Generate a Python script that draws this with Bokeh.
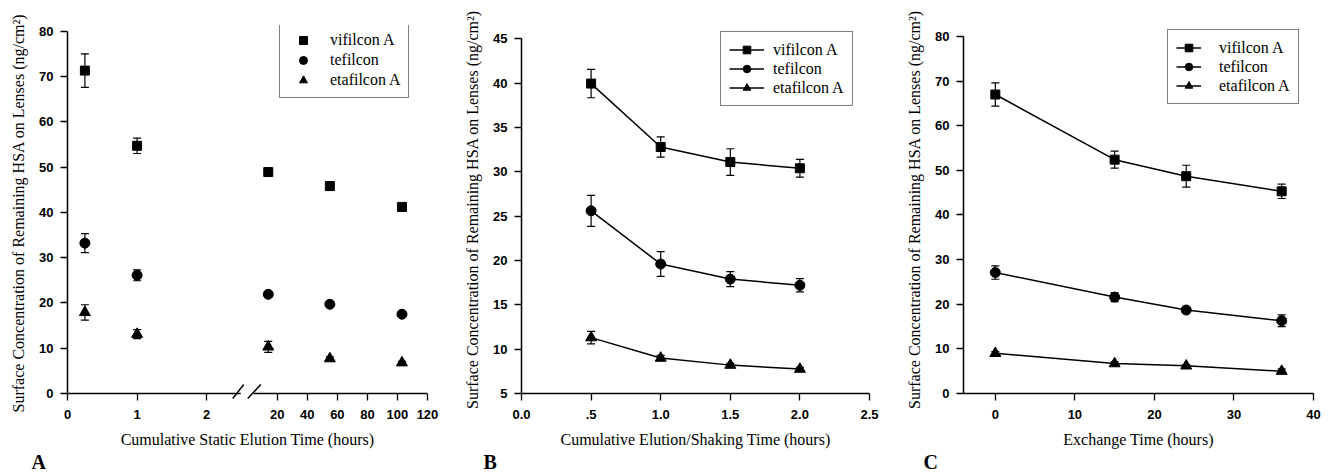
from bokeh.plotting import figure
from bokeh.models import (Range1d, FixedTicker, CustomJSTickFormatter, Whisker, TeeHead,
                          ColumnDataSource, Legend, LegendItem, Title)
from bokeh.layouts import row
from bokeh.embed import file_html
from bokeh.resources import INLINE

SERIF = "Liberation Serif"
SANS = "Liberation Sans"

series_names = ["vifilcon A", "tefilcon", "etafilcon A"]
markers = ["square", "circle", "triangle"]
marker_sizes = [9, 10, 11]
y_label = "Surface Concentration of Remaining HSA on Lenses (ng/cm\u00b2)"

# ---------------- Panel A (static elution, broken x axis) ----------------
a_hours_early = [0.25, 1.0]
a_hours_late = [14, 55, 103]
a_vifilcon = [71.3, 54.7, 48.9, 45.8, 41.2]
a_vifilcon_err = [3.7, 1.7, 0.7, 0.5, 0.4]
a_tefilcon = [33.2, 26.1, 21.9, 19.7, 17.5]
a_tefilcon_err = [2.1, 1.2, 0.6, 0.5, 0.4]
a_etafilcon = [17.9, 13.1, 10.3, 7.7, 6.8]
a_etafilcon_err = [1.7, 1.0, 1.2, 0.4, 0.3]
a_ticks_early = [0, 1, 2]
a_ticks_late = [20, 40, 60, 80, 100, 120]
a_yticks = list(range(0, 81, 10))

# ---------------- Panel B (elution / shaking) ----------------
b_hours = [0.5, 1.0, 1.5, 2.0]
b_vifilcon = [39.95, 32.8, 31.1, 30.4]
b_vifilcon_err = [1.6, 1.15, 1.5, 1.0]
b_tefilcon = [25.6, 19.6, 17.9, 17.2]
b_tefilcon_err = [1.75, 1.4, 0.85, 0.75]
b_etafilcon = [11.3, 9.0, 8.2, 7.75]
b_etafilcon_err = [0.7, 0.3, 0.2, 0.2]
b_ticks = [0.0, 0.5, 1.0, 1.5, 2.0, 2.5]
b_yticks = list(range(5, 46, 5))

# ---------------- Panel C (exchange) ----------------
c_hours = [0, 15, 24, 36]
c_vifilcon = [67.0, 52.4, 48.7, 45.3]
c_vifilcon_err = [2.6, 1.9, 2.45, 1.6]
c_tefilcon = [27.1, 21.6, 18.7, 16.3]
c_tefilcon_err = [1.5, 1.0, 0.6, 1.3]
c_etafilcon = [9.0, 6.7, 6.2, 5.0]
c_etafilcon_err = [0.4, 0.4, 0.3, 0.5]
c_ticks = [0, 10, 20, 30, 40]
c_yticks = list(range(0, 81, 10))

TOP = 25  # shared top border (rows align their plots' borders)


def make_fig(x_range, y_range, left, right, fw, fh, y_ticks, x_title):
    p = figure(frame_width=fw, frame_height=fh, x_range=x_range, y_range=y_range,
               output_backend="svg", toolbar_location=None,
               min_border_left=left, min_border_right=right,
               min_border_top=TOP, min_border_bottom=0)
    p.grid.visible = False
    p.outline_line_color = None
    p.background_fill_color = "white"
    p.border_fill_color = "white"
    for ax in (p.xaxis[0], p.yaxis[0]):
        ax.axis_line_color = "black"
        ax.axis_line_width = 1.5
        ax.major_tick_line_color = "black"
        ax.major_tick_line_width = 1.3
        ax.major_tick_out = 7
        ax.major_tick_in = 0
        ax.minor_tick_line_color = None
        ax.major_label_text_font = SANS
        ax.major_label_text_font_style = "bold"
        ax.major_label_text_font_size = "13px"
        ax.major_label_text_color = "black"
        ax.major_label_standoff = 7
        ax.axis_label_text_font = SERIF
        ax.axis_label_text_font_style = "normal"
        ax.axis_label_text_font_size = "16px"
        ax.axis_label_text_color = "black"
        ax.axis_label_standoff = 9
    p.xaxis[0].major_label_standoff = 9
    p.yaxis[0].ticker = FixedTicker(ticks=y_ticks)
    p.yaxis[0].bounds = (y_ticks[0], y_ticks[-1])
    p.yaxis[0].axis_label = y_label
    p.xaxis[0].axis_label = x_title
    return p


def add_series(p, xs, ys, errs, marker, size, line=False, x_range_name="default"):
    src = ColumnDataSource(dict(x=xs, y=ys,
                                lo=[v - e for v, e in zip(ys, errs)],
                                hi=[v + e for v, e in zip(ys, errs)]))
    w = Whisker(source=src, base="x", lower="lo", upper="hi", dimension="height",
                line_color="black", line_width=1.2, x_range_name=x_range_name,
                upper_head=TeeHead(size=8, line_color="black", line_width=1.2),
                lower_head=TeeHead(size=8, line_color="black", line_width=1.2))
    p.add_layout(w)
    rends = []
    if line:
        rends.append(p.line("x", "y", source=src, line_color="black", line_width=1.5,
                            x_range_name=x_range_name))
    rends.append(p.scatter("x", "y", source=src, marker=marker, size=size,
                           fill_color="black", line_color="black",
                           x_range_name=x_range_name))
    return rends


def add_legend(p, items, loc, glyph_width, row_h, standoff, padding):
    lg = Legend(items=items, location=loc, glyph_width=glyph_width, glyph_height=row_h,
                label_height=row_h, label_standoff=standoff, padding=padding,
                spacing=0, margin=0, border_line_color="black", border_line_width=1.3,
                label_text_font=SERIF, label_text_font_size="16px",
                label_text_color="black", background_fill_color="white",
                background_fill_alpha=1.0)
    p.add_layout(lg)


def add_letter(p, text, offset):
    p.add_layout(Title(text=text, align="left", vertical_align="top", offset=offset,
                       standoff=0, text_font=SERIF, text_font_style="bold",
                       text_font_size="20px", text_color="black"), "below")


# ---------- Panel A ----------
PX_A = 362.3 / 80.0   # pixels per y unit
U20 = 3.014           # plot position of the 20 h tick
K = 0.021583          # plot units per hour on the right segment
U_END = U20 + (a_ticks_late[-1] - 20) * K
pA = make_fig(Range1d(0, U_END), Range1d(-7 / PX_A, 80 + 5.7 / PX_A), 67, 18, 360, 375,
              a_yticks, "Cumulative Static Elution Time (hours)")
pA.extra_x_ranges = {"hours": Range1d(20 - U20 / K, a_ticks_late[-1])}
xa = pA.xaxis[0]
xa.ticker = FixedTicker(ticks=a_ticks_early + [U20 + (h - 20) * K for h in a_ticks_late])
xa.formatter = CustomJSTickFormatter(args=dict(u20=U20, k=K),
    code="return (tick < 2.5 ? tick : 20 + (tick - u20) / k).toFixed(0);")
xa.axis_line_color = None
xa.major_tick_in = 7
xa.major_tick_out = 0
# broken axis line at y = 0 and the two break marks
brk1, brk2 = 2.489, 2.676
pA.segment(x0=[0, brk2], y0=[0, 0], x1=[brk1, U_END], y1=[0, 0],
           line_color="black", line_width=1.5)
pA.segment(x0=[2.374, 2.590], y0=[-5 / PX_A, -5 / PX_A], x1=[2.532, 2.777],
           y1=[9 / PX_A, 9 / PX_A], line_color="black", line_width=1.5)

legA = []
for name, vals, errs, mk, sz in zip(series_names,
                                    [a_vifilcon, a_tefilcon, a_etafilcon],
                                    [a_vifilcon_err, a_tefilcon_err, a_etafilcon_err],
                                    markers, marker_sizes):
    r1 = add_series(pA, a_hours_early, vals[:2], errs[:2], mk, sz)
    add_series(pA, a_hours_late, vals[2:], errs[2:], mk, sz, x_range_name="hours")
    legA.append(LegendItem(label=name, renderers=r1))
add_legend(pA, legA, (212, 302), 32, 20, 11, 7)
add_letter(pA, "A", -36)

# ---------- Panel B ----------
PX_B = 355.0 / 40.0
pB = make_fig(Range1d(0, 2.5), Range1d(5, 45 + 13.3 / PX_B), 76, 21, 348, 368,
              b_yticks, "Cumulative Elution/Shaking Time (hours)")
pB.xaxis[0].ticker = FixedTicker(ticks=b_ticks)
pB.xaxis[0].formatter = CustomJSTickFormatter(
    code="return tick == 0.5 ? '.5' : tick.toFixed(1);")
legB = []
for name, vals, errs, mk, sz in zip(series_names,
                                    [b_vifilcon, b_tefilcon, b_etafilcon],
                                    [b_vifilcon_err, b_tefilcon_err, b_etafilcon_err],
                                    markers, marker_sizes):
    legB.append(LegendItem(label=name, renderers=add_series(pB, b_hours, vals, errs, mk, sz, line=True)))
add_legend(pB, legB, (199, 287), 35, 19, 9, 8)
add_letter(pB, "B", -38)

# ---------- Panel C ----------
PX_C = 357.3 / 80.0
pC = make_fig(Range1d(-4, 40), Range1d(0, 80 + 11 / PX_C), 73, 22, 350, 368,
              c_yticks, "Exchange Time (hours)")
pC.xaxis[0].ticker = FixedTicker(ticks=c_ticks)
legC = []
for name, vals, errs, mk, sz in zip(series_names,
                                    [c_vifilcon, c_tefilcon, c_etafilcon],
                                    [c_vifilcon_err, c_tefilcon_err, c_etafilcon_err],
                                    markers, marker_sizes):
    legC.append(LegendItem(label=name, renderers=add_series(pC, c_hours, vals, errs, mk, sz, line=True)))
add_legend(pC, legC, (204, 289), 25, 19, 18, 8)
add_letter(pC, "C", -40)

layout = row(pA, pB, pC)
open("out.html", "w").write(file_html(layout, INLINE))
